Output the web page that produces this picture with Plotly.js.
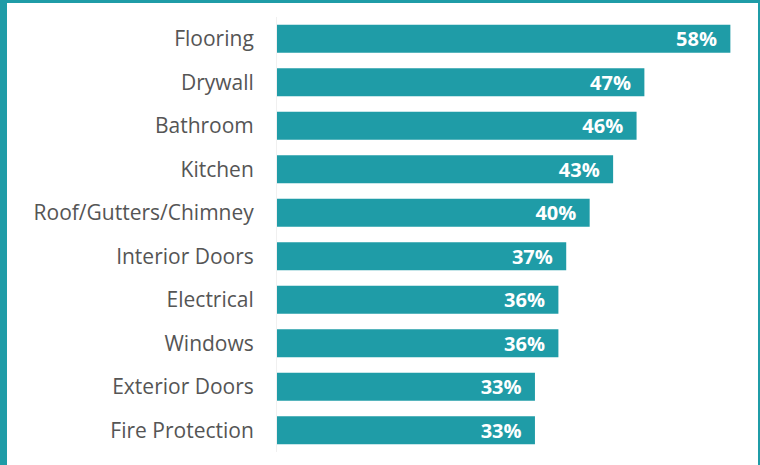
<!DOCTYPE html>
<html>
<head>
<meta charset="utf-8">
<script src="https://cdn.plot.ly/plotly-3.0.1.min.js"></script>
<style>
  html, body { margin: 0; padding: 0; background: #ffffff; }
  #wrap { position: relative; width: 760px; height: 465px; overflow: hidden; }
  #chart { position: absolute; left: 0; top: 0; width: 760px; height: 465px; }
  .bd { position: absolute; background: #1f9ca7; }
</style>
</head>
<body>
<div id="wrap">
  <div id="chart"></div>
  <div class="bd" style="left:0;top:0;width:7px;height:465px;"></div>
  <div class="bd" style="left:0;top:0;width:760px;height:3px;"></div>
  <div class="bd" style="left:758px;top:0;width:2px;height:465px;"></div>
</div>
<script>
const categories = ["Flooring", "Drywall", "Bathroom", "Kitchen", "Roof/Gutters/Chimney",
                    "Interior Doors", "Electrical", "Windows", "Exterior Doors", "Fire Protection"];
const values = [58, 47, 46, 43, 40, 37, 36, 36, 33, 33];

const trace = {
  type: "bar",
  orientation: "h",
  x: values,
  y: categories,
  marker: { color: "#1f9ca7" },
  width: 0.645,
  texttemplate: "%{x}%\u00a0\u00a0",
  textposition: "inside",
  insidetextanchor: "end",
  textangle: 0,
  constraintext: "none",
  textfont: { family: "'Open Sans', sans-serif", size: 20, color: "#ffffff", weight: 700 },
  hoverinfo: "skip"
};

const layout = {
  width: 760,
  height: 465,
  margin: { l: 277, r: 14, t: 17, b: 13, pad: 0 },
  paper_bgcolor: "#ffffff",
  plot_bgcolor: "#ffffff",
  showlegend: false,
  xaxis: {
    range: [0, 60],
    showgrid: false,
    zeroline: false,
    showticklabels: false,
    showline: false,
    ticks: ""
  },
  yaxis: {
    type: "category",
    autorange: "reversed",
    range: [9.5, -0.5],
    showgrid: false,
    zeroline: false,
    showline: true,
    linecolor: "#f0f0f0",
    linewidth: 1,
    ticks: "",
    ticklabelstandoff: 18,
    tickfont: { family: "'Open Sans', sans-serif", size: 21, color: "#555555" }
  }
};

Plotly.newPlot("chart", [trace], layout, { displayModeBar: false, staticPlot: true });
</script>
</body>
</html>
